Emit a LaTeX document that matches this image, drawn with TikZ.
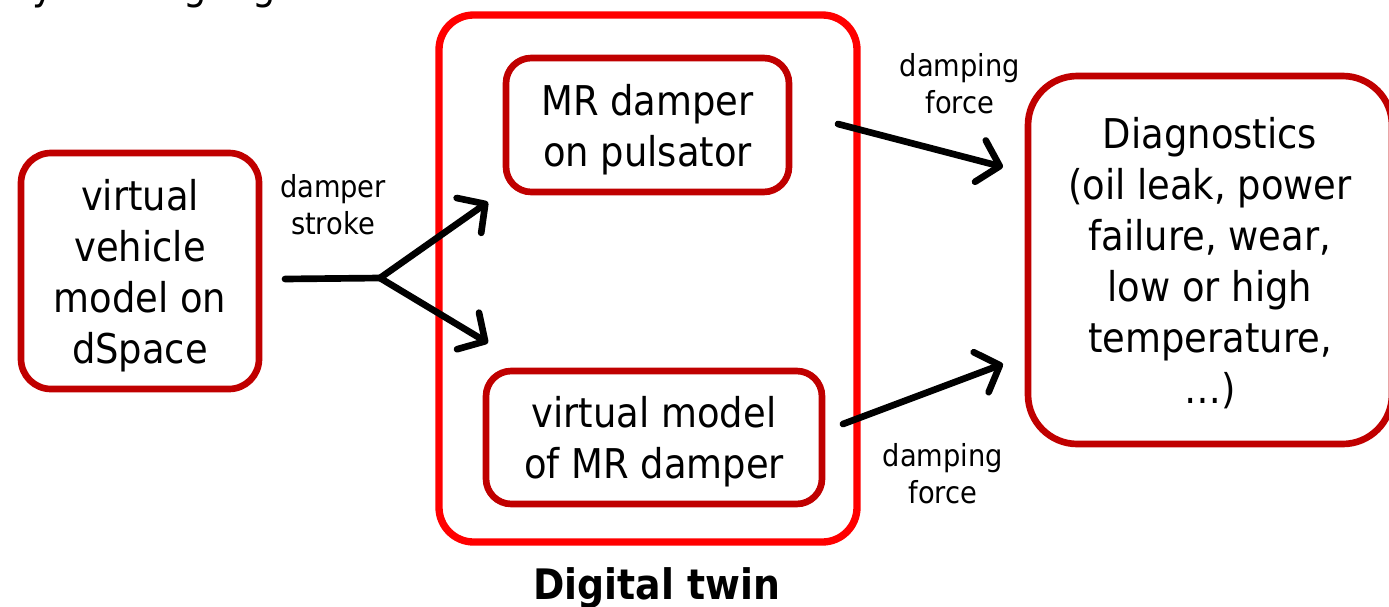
\documentclass[tikz,border=0pt]{standalone}
\usepackage{fontspec}
\setmainfont{DejaVu Sans}[FakeStretch=0.9]
\usetikzlibrary{arrows.meta}

\definecolor{boxred}{HTML}{C00000}
\definecolor{twinred}{HTML}{FF0000}

\tikzset{
  bigtext/.style={font=\fontsize{30.75pt}{38.25pt}\selectfont, align=center},
  smalltext/.style={font=\fontsize{22.75pt}{28pt}\selectfont, align=center},
  blockbox/.style={draw=boxred, line width=5pt, fill=white, bigtext, inner sep=0pt, text depth=0pt},
  twinbox/.style={draw=twinred, line width=5.5pt, inner sep=0pt},
  flow/.style={draw=black, line width=5pt, line cap=round, line join=round},
  flowarrow/.style={flow, -{Straight Barb[length=15pt,width=32pt,round]}}
}

\begin{document}
\begin{tikzpicture}[x=0.75pt, y=-0.75pt]
  \useasboundingbox (0,0) rectangle (1389,607);

  % heading line above the diagram, cut by the page edge
  \node[anchor=base west, inner sep=0pt, font=\fontsize{30.75pt}{38pt}\selectfont] (head) at (9,-0.5) {by strain gauge};

  % digital twin frame
  \node[twinbox, rounded corners=26pt, minimum width=313.5pt, minimum height=395.25pt] (dt) at (648,278.5) {};
  \node[anchor=base, inner sep=0pt, font=\fontsize{31.5pt}{38pt}\selectfont\bfseries] (dtlabel) at (657,599) {Digital twin};

  % blocks
  \node[blockbox, rounded corners=22.5pt, minimum width=178.5pt, minimum height=177pt] (vv) at (140,271)
    {virtual\\vehicle\\model on\\dSpace};
  \node[blockbox, rounded corners=19pt, minimum width=212.25pt, minimum height=100.5pt] (pul) at (647.5,125)
    {MR damper\\on pulsator};
  \node[blockbox, rounded corners=19pt, minimum width=252pt, minimum height=99.75pt] (vmr) at (654,437.5)
    {virtual model\\of MR damper};
  \node[blockbox, rounded corners=37pt, minimum width=273pt, minimum height=276pt] (diag) at (1210,260)
    {Diagnostics\\(oil leak, power\\failure, wear,\\low or high\\temperature,\\…)};

  % connector end points
  \coordinate (s0) at (285,279);
  \coordinate (fork) at (380,278);
  \coordinate (p_in) at (488,202);
  \coordinate (v_in) at (488,343);
  \coordinate (p_out) at (838,124);
  \coordinate (d_in1) at (1003,167);
  \coordinate (v_out) at (843,424);
  \coordinate (d_in2) at (1003,364);

  % damper stroke split
  \draw[flow] (s0) -- (fork);
  \draw[flowarrow] (fork) -- (p_in);
  \draw[flowarrow] (fork) -- (v_in);
  \node[smalltext, inner sep=0pt] (lstroke) at (333,205) {damper\\stroke};

  % damping force outputs
  \draw[flowarrow] (p_out) -- (d_in1);
  \draw[flowarrow] (v_out) -- (d_in2);
  \node[smalltext, inner sep=0pt] (lforce1) at (960,84) {damping\\force};
  \node[smalltext, inner sep=0pt] (lforce2) at (943,474) {damping\\force};
\end{tikzpicture}
\end{document}
